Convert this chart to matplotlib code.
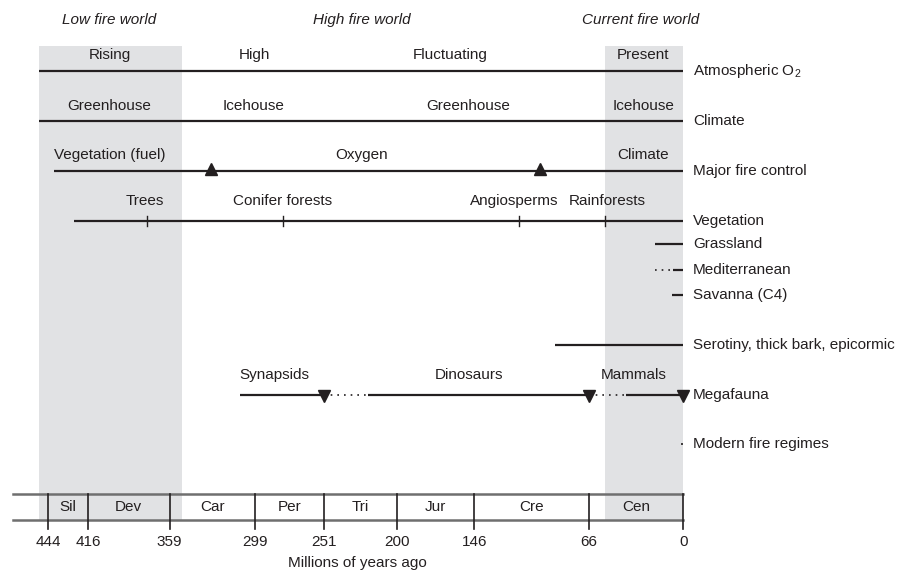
import matplotlib.pyplot as plt

plt.rcParams['font.family'] = ['Liberation Sans', 'DejaVu Sans']
plt.rcParams['mathtext.fontset'] = 'custom'
plt.rcParams['mathtext.rm'] = 'Liberation Sans'

INK = '#231f20'
SHADE = '#e1e2e4'
RULE = '#6f6f6f'
FS = 11

# geologic periods, millions of years ago
period_names = ['Sil', 'Dev', 'Car', 'Per', 'Tri', 'Jur', 'Cre', 'Cen']
period_bounds = [444, 416, 359, 299, 251, 200, 146, 66, 0]

# fire worlds
world_names = ['Low fire world', 'High fire world', 'Current fire world']
world_centres = [401, 225, 30]
low_fire_span = (450, 350)
current_fire_span = (55, 0)

# atmospheric O2
o2_labels = ['Rising', 'High', 'Fluctuating', 'Present']
o2_pos = [401, 300, 163, 28]
o2_span = (450, 0)

# climate
climate_labels = ['Greenhouse', 'Icehouse', 'Greenhouse', 'Icehouse']
climate_pos = [401, 300, 150, 28]
climate_span = (450, 0)

# major fire control
control_labels = ['Vegetation (fuel)', 'Oxygen', 'Climate']
control_pos = [401, 225, 28]
control_span = (440, 0)
control_switch = [330, 100]

# vegetation
veg_labels = ['Trees', 'Conifer forests', 'Angiosperms', 'Rainforests']
veg_label_pos = [376, 280, 118, 53]
veg_marks = [375, 280, 115, 55]
veg_span = (426, 0)

grassland_span = (20, 0)
med_dotted = (20, 7.5)
med_solid = (7.5, 0)
savanna_span = (8, 0)
serotiny_span = (90, 0)

# megafauna
mega_labels = ['Synapsids', 'Dinosaurs', 'Mammals']
mega_label_pos = [286, 150, 35]
mega_solid = [(310, 251), (220, 66), (40, 0)]
mega_dotted = [(251, 220), (66, 40)]
mega_extinct = [251, 66, 0]
modern_span = (1.5, 0.3)

row_names = ['Atmospheric O$_{\\mathregular{2}}$', 'Climate', 'Major fire control', 'Vegetation',
             'Grassland', 'Mediterranean', 'Savanna (C4)',
             'Serotiny, thick bark, epicormic', 'Megafauna', 'Modern fire regimes']
row_y = [71, 121, 171, 221, 244, 270, 295, 345, 395, 444]

fig = plt.figure(figsize=(9.11, 5.74), dpi=100)
ax = fig.add_axes([0, 0, 1, 1])
ax.set_xlim(477.5, -159.1)
ax.set_ylim(574, 0)
ax.axis('off')

# shaded low / current fire worlds
for span in (low_fire_span, current_fire_span):
    ax.fill_betweenx([46, 520], span[0], span[1], color=SHADE, lw=0, zorder=0)

for name, x in zip(world_names, world_centres):
    ax.text(x, 20, name, style='italic', fontsize=FS, color=INK, ha='center', va='center')


def seg(span, y, ls='-', lw=1.6):
    ax.plot(span, [y, y], color=INK, lw=lw, ls=ls, solid_capstyle='butt', zorder=2)


def labels(names, xs, y):
    for n, x in zip(names, xs):
        ax.text(x, y, n, fontsize=FS, color=INK, ha='center', va='center')


seg(o2_span, row_y[0])
labels(o2_labels, o2_pos, row_y[0] - 16)

seg(climate_span, row_y[1])
labels(climate_labels, climate_pos, row_y[1] - 15)

seg(control_span, row_y[2])
labels(control_labels, control_pos, row_y[2] - 16)
ax.plot(control_switch, [row_y[2] - 2] * len(control_switch), ls='none', marker='^',
        ms=8, color=INK, zorder=3)

seg(veg_span, row_y[3])
labels(veg_labels, veg_label_pos, row_y[3] - 20)
for m in veg_marks:
    ax.plot([m, m], [row_y[3] - 5, row_y[3] + 5], color=INK, lw=1, zorder=2)

seg(grassland_span, row_y[4])
seg(med_dotted, row_y[5], ls=(0, (1, 3)), lw=1.2)
seg(med_solid, row_y[5])
seg(savanna_span, row_y[6])
seg(serotiny_span, row_y[7])

for s in mega_solid:
    seg(s, row_y[8])
for s in mega_dotted:
    seg(s, row_y[8], ls=(0, (1, 3)), lw=1.2)
ax.plot(mega_extinct, [row_y[8] + 1] * len(mega_extinct), ls='none', marker='v',
        ms=8, color=INK, zorder=3)
labels(mega_labels, mega_label_pos, row_y[8] - 20)

seg(modern_span, row_y[9], lw=1.2)

for name, y in zip(row_names, row_y):
    ax.annotate(name, (0, y), xytext=(7, 0), textcoords='offset points',
                fontsize=FS, color=INK, ha='left', va='center')

# time scale
ax.plot([468.5, 0], [494, 494], color=RULE, lw=1.8, zorder=2)
ax.plot([468.5, 0], [520, 520], color=RULE, lw=1.8, zorder=2)
for b in period_bounds:
    ax.plot([b, b], [494, 529], color=INK, lw=1.2, zorder=3)
    ax.text(b, 542, str(b), fontsize=FS, color=INK, ha='center', va='center')
for name, a, b in zip(period_names, period_bounds[:-1], period_bounds[1:]):
    ax.text((a + b) / 2, 507, name, fontsize=FS, color=INK, ha='center', va='center')
ax.text(228, 563, 'Millions of years ago', fontsize=FS, color=INK, ha='center', va='center')

fig.savefig('out.png', dpi=100)
